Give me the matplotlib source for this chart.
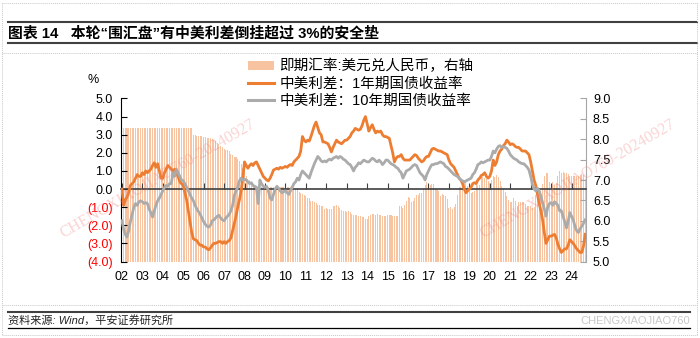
import numpy as np
import matplotlib
matplotlib.use("Agg")
import matplotlib.pyplot as plt
from matplotlib.patches import Patch
from matplotlib.lines import Line2D

plt.rcParams['font.family'] = ['Liberation Sans', 'Noto Sans CJK SC', 'DejaVu Sans']

# monthly data, 2002-01 .. 2024-09
start_year = 2002

# 即期汇率：美元兑人民币 (right axis)
usdcny = [
    8.277, 8.277, 8.277, 8.277, 8.277, 8.277, 8.277, 8.277, 8.277, 8.277, 8.277, 8.277,  # 2002
    8.277, 8.277, 8.277, 8.277, 8.277, 8.277, 8.277, 8.277, 8.277, 8.277, 8.277, 8.277,  # 2003
    8.276, 8.276, 8.276, 8.276, 8.276, 8.276, 8.276, 8.276, 8.276, 8.276, 8.276, 8.276,  # 2004
    8.276, 8.276, 8.276, 8.276, 8.276, 8.276, 8.11, 8.10, 8.09, 8.08, 8.08, 8.07,  # 2005
    8.06, 8.05, 8.02, 8.02, 8.02, 8.00, 7.97, 7.95, 7.91, 7.89, 7.84, 7.81,  # 2006
    7.77, 7.74, 7.73, 7.71, 7.65, 7.62, 7.57, 7.57, 7.51, 7.47, 7.40, 7.30,  # 2007
    7.19, 7.11, 7.02, 6.99, 6.95, 6.86, 6.84, 6.84, 6.81, 6.83, 6.83, 6.83,  # 2008
    6.84, 6.84, 6.83, 6.83, 6.83, 6.83, 6.83, 6.83, 6.83, 6.83, 6.83, 6.83,  # 2009
    6.83, 6.83, 6.83, 6.83, 6.83, 6.78, 6.78, 6.81, 6.70, 6.67, 6.65, 6.62,  # 2010
    6.60, 6.57, 6.55, 6.49, 6.48, 6.47, 6.44, 6.39, 6.38, 6.36, 6.36, 6.30,  # 2011
    6.31, 6.30, 6.30, 6.30, 6.36, 6.36, 6.38, 6.35, 6.31, 6.26, 6.23, 6.23,  # 2012
    6.22, 6.23, 6.21, 6.16, 6.13, 6.14, 6.14, 6.12, 6.12, 6.09, 6.09, 6.05,  # 2013
    6.05, 6.12, 6.15, 6.16, 6.17, 6.15, 6.17, 6.15, 6.14, 6.11, 6.12, 6.12,  # 2014
    6.13, 6.15, 6.14, 6.12, 6.12, 6.12, 6.12, 6.36, 6.36, 6.32, 6.39, 6.49,  # 2015
    6.58, 6.55, 6.45, 6.48, 6.56, 6.63, 6.64, 6.68, 6.67, 6.77, 6.88, 6.94,  # 2016
    6.87, 6.87, 6.89, 6.89, 6.81, 6.78, 6.73, 6.60, 6.65, 6.62, 6.61, 6.53,  # 2017
    6.32, 6.33, 6.28, 6.33, 6.40, 6.62, 6.83, 6.82, 6.87, 6.97, 6.94, 6.86,  # 2018
    6.74, 6.69, 6.71, 6.73, 6.90, 6.87, 6.88, 7.08, 7.08, 7.05, 7.03, 6.98,  # 2019
    6.93, 6.99, 7.09, 7.07, 7.13, 7.08, 6.98, 6.86, 6.81, 6.70, 6.60, 6.52,  # 2020
    6.47, 6.47, 6.57, 6.49, 6.37, 6.46, 6.47, 6.47, 6.46, 6.41, 6.37, 6.37,  # 2021
    6.37, 6.31, 6.34, 6.62, 6.67, 6.71, 6.74, 6.89, 7.10, 7.18, 7.16, 6.95,  # 2022
    6.75, 6.95, 6.87, 6.92, 7.09, 7.23, 7.18, 7.19, 7.18, 7.18, 7.14, 7.10,  # 2023
    7.10, 7.11, 7.10, 7.11, 7.11, 7.13, 7.14, 7.12, 7.02,  # 2024
]

# 中美利差：1年期国债收益率 (%)
spread_1y = [
    0.0, -0.9, -0.6, -0.45, -0.2, 0.2, 0.3, 0.4, 0.6, 0.8, 0.7, 0.7,  # 2002
    0.9, 0.8, 1.0, 0.9, 1.0, 1.1, 1.3, 1.45, 1.2, 1.4, 1.0, 0.6,  # 2003
    0.6, 0.9, 1.1, 1.3, 1.2, 1.1, 1.0, 1.1, 0.9, 0.7, 0.4, 0.3,  # 2004
    0.2, -0.2, -0.6, -1.2, -1.8, -2.4, -2.75, -2.8, -2.85, -3.0, -3.1, -3.1,  # 2005
    -3.2, -3.2, -3.3, -3.35, -3.25, -3.1, -3.0, -3.0, -2.95, -2.9, -2.9, -3.0,  # 2006
    -2.9, -3.0, -2.9, -2.85, -2.7, -2.3, -1.9, -1.5, -1.0, -0.6, -0.1, 0.6,  # 2007
    1.5, 1.3, 1.15, 1.3, 1.4, 1.3, 1.45, 1.5, 1.3, 1.1, 0.9, 0.7,  # 2008
    0.6, 0.5, 0.45, 0.6, 0.8, 1.05, 1.1, 1.15, 1.1, 1.2, 1.15, 1.2,  # 2009
    1.25, 1.2, 1.3, 1.35, 1.3, 1.5, 1.6, 1.7, 1.8, 2.1, 2.9, 2.7,  # 2010
    2.6, 2.7, 2.65, 2.9, 3.2, 3.5, 3.7, 3.4, 3.1, 3.0, 2.6, 2.6,  # 2011
    2.55, 2.5, 2.3, 2.05, 2.3, 2.5, 2.7, 2.6, 2.55, 2.5, 2.6, 2.7,  # 2012
    2.7, 2.8, 2.9, 3.1, 3.2, 3.35, 3.3, 3.25, 3.3, 3.5, 3.8, 4.0,  # 2013
    3.6, 3.2, 3.4, 3.55, 3.3, 3.1, 3.2, 3.15, 3.2, 3.0, 2.9, 2.9,  # 2014
    2.85, 2.8, 2.4, 2.0, 1.5, 1.7, 1.8, 1.8, 1.9, 1.7, 1.6, 1.6,  # 2015
    1.6, 1.6, 1.7, 1.8, 1.9, 1.85, 1.7, 1.6, 1.5, 1.55, 1.7, 1.8,  # 2016
    1.8, 2.0, 2.2, 2.25, 2.2, 2.15, 2.1, 2.1, 2.05, 2.0, 1.95, 1.9,  # 2017
    1.6, 1.4, 1.3, 1.2, 1.0, 0.8, 0.6, 0.5, 0.3, 0.0, -0.2, -0.1,  # 2018
    0.0, 0.1, 0.3, 0.35, 0.3, 0.5, 0.6, 0.75, 0.8, 0.9, 0.7, 0.6,  # 2019
    0.7, 1.0, 1.6, 1.3, 1.5, 1.9, 2.1, 2.2, 2.4, 2.5, 2.7, 2.6,  # 2020
    2.45, 2.5, 2.45, 2.35, 2.3, 2.3, 2.2, 2.1, 2.1, 2.1, 2.0, 1.9,  # 2021
    1.5, 1.0, 0.5, 0.2, -0.3, -0.8, -1.2, -1.7, -2.4, -3.0, -2.8, -2.6,  # 2022
    -2.6, -2.55, -2.5, -2.7, -3.05, -3.3, -3.5, -3.4, -3.3, -3.3, -3.1, -2.8,  # 2023
    -2.9, -3.0, -3.15, -3.3, -3.4, -3.5, -3.5, -3.15, -2.5,  # 2024
]

# 中美利差：10年期国债收益率 (%)
spread_10y = [
    -1.75, -2.2, -2.5, -2.65, -2.3, -1.8, -1.4, -1.0, -0.8, -0.9, -0.7, -0.65,  # 2002
    -0.7, -0.8, -0.75, -0.8, -1.1, -1.3, -1.55, -1.2, -0.9, -0.65, -0.5, -0.3,  # 2003
    -0.1, 0.1, 0.2, 0.15, 0.3, 0.3, 0.9, 0.7, 1.1, 0.9, 0.7, 0.5,  # 2004
    0.45, 0.3, 0.1, -0.1, -0.3, -0.5, -0.65, -0.9, -1.1, -1.25, -1.4, -1.6,  # 2005
    -1.8, -1.95, -2.05, -2.1, -2.0, -1.75, -1.7, -1.6, -1.5, -1.45, -1.6, -1.7,  # 2006
    -1.75, -1.6, -1.5, -1.4, -1.2, -0.9, -0.35, -0.1, 0.1, 0.45, 0.6, 0.5,  # 2007
    0.55, 0.5, 0.4, 0.3, 0.35, 0.2, 0.15, 0.1, -0.8, 0.5, 0.3, 0.15,  # 2008
    0.1, 0.15, -0.1, -0.5, -0.6, -0.3, 0.0, 0.15, 0.05, -0.1, -0.2, -0.15,  # 2009
    -0.1, -0.2, -0.3, -0.1, 0.1, 0.3, 0.4, 0.6, 0.5, 0.8, 1.0, 0.9,  # 2010
    0.8, 0.7, 0.6, 0.9, 1.15, 1.4, 1.6, 1.8, 1.7, 1.55, 1.5, 1.55,  # 2011
    1.5, 1.6, 1.65, 1.6, 1.7, 1.75, 1.8, 1.7, 1.8, 1.75, 1.65, 1.6,  # 2012
    1.5, 1.4, 1.35, 1.2, 1.0, 1.2, 1.3, 1.45, 1.4, 1.5, 1.6, 1.55,  # 2013
    1.5, 1.5, 1.6, 1.7, 1.65, 1.55, 1.5, 1.6, 1.5, 1.35, 1.45, 1.6,  # 2014
    1.6, 1.5, 1.4, 1.35, 1.3, 1.2, 1.15, 1.0, 0.9, 0.6, 0.8, 1.0,  # 2015
    1.05, 1.1, 1.2, 1.3, 1.35, 1.3, 1.1, 0.9, 0.8, 0.7, 0.5, 0.8,  # 2016
    1.0, 1.2, 1.35, 1.35, 1.4, 1.4, 1.45, 1.5, 1.45, 1.4, 1.25, 1.2,  # 2017
    1.1, 1.0, 0.9, 0.8, 0.75, 0.7, 0.6, 0.5, 0.45, 0.4, 0.45, 0.5,  # 2018
    0.55, 0.6, 0.8, 0.9, 1.1, 1.35, 1.4, 1.5, 1.45, 1.5, 1.55, 1.6,  # 2019
    1.6, 1.8, 2.1, 2.0, 2.2, 2.35, 2.4, 2.3, 2.35, 2.3, 2.25, 2.1,  # 2020
    1.9, 1.8, 1.7, 1.65, 1.6, 1.5, 1.45, 1.4, 1.4, 1.3, 1.2, 1.05,  # 2021
    0.7, 0.25, 0.0, -0.1, 0.05, -0.1, -0.4, -0.75, -1.1, -1.5, -1.0, -0.8,  # 2022
    -0.75, -0.9, -0.7, -0.8, -0.9, -1.2, -1.2, -1.5, -1.8, -2.15, -1.8, -1.3,  # 2023
    -1.5, -1.7, -2.05, -2.3, -2.4, -2.2, -2.05, -1.9, -1.7,  # 2024
]

year_ticks = list(range(2002, 2025))
year_labels = ['02', '03', '04', '05', '06', '07', '08', '09', '10', '11', '12', '13',
               '14', '15', '16', '17', '18', '19', '20', '21', '22', '23', '24']
left_ticks = [-4, -3, -2, -1, 0, 1, 2, 3, 4, 5]
left_labels = ['(4.0)', '(3.0)', '(2.0)', '(1.0)', '0.0', '1.0', '2.0', '3.0', '4.0', '5.0']
right_ticks = [5.0, 5.5, 6.0, 6.5, 7.0, 7.5, 8.0, 8.5, 9.0]

legend_labels = ['即期汇率:美元兑人民币，右轴', '中美利差：1年期国债收益率', '中美利差：10年期国债收益率']

c_bar = '#F8C3A0'
c_1y = '#ED7D31'
c_10y = '#ABABAB'

x = start_year + np.arange(len(usdcny)) / 12.0

fig = plt.figure(figsize=(7, 3.38), dpi=100)
ax = fig.add_axes([0.1729, 0.2263, 0.6643, 0.4823])
ax2 = ax.twinx()
ax.set_zorder(2)
ax2.set_zorder(1)
ax.patch.set_visible(False)

ax2.bar(x, usdcny, width=0.6 / 12, color=c_bar, linewidth=0)
ax2.set_ylim(5, 9)
ax2.set_yticks(right_ticks)
ax2.set_yticklabels([f'{v:.1f}' for v in right_ticks])

ax.plot(x, spread_1y, color=c_1y, lw=2.0, zorder=3, solid_joinstyle='round')
ax.plot(x, spread_10y, color=c_10y, lw=2.0, zorder=4, solid_joinstyle='round')
ax.set_ylim(-4, 5)
ax.set_xlim(x[0] - 0.5 / 12, x[-1] + 0.5 / 12)
ax.set_yticks(left_ticks)
ax.set_yticklabels(left_labels)
for t, v in zip(ax.get_yticklabels(), left_ticks):
    t.set_color('#FF0000' if v < 0 else 'black')

for s in ['top', 'right']:
    ax.spines[s].set_visible(False)
ax.spines['left'].set_color('black')
ax.spines['bottom'].set_position(('data', 0))
ax.spines['bottom'].set_color('#404040')
ax.spines['bottom'].set_linewidth(1.2)
ax.set_xticks(year_ticks)
ax.tick_params(axis='x', direction='in', length=4, color='#404040', labelbottom=False)
ax.tick_params(axis='y', direction='in', length=4, pad=6, labelsize=9)

for s in ['top', 'bottom', 'left']:
    ax2.spines[s].set_visible(False)
ax2.spines['right'].set_color('#A6A6A6')
ax2.tick_params(axis='y', direction='in', length=4, color='#A6A6A6', pad=5, labelsize=9)

sec = ax.secondary_xaxis('bottom')
sec.set_xticks(year_ticks)
sec.set_xticklabels(year_labels)
sec.tick_params(length=0, pad=7, labelsize=9)
sec.spines['bottom'].set_visible(False)

fig.text(93 / 700, 1 - 80 / 338, '%', fontsize=9, ha='center', va='center')

handles = [Patch(facecolor=c_bar, edgecolor='none'),
           Line2D([], [], color=c_1y, lw=2.2),
           Line2D([], [], color=c_10y, lw=2.2)]
fig.legend(handles, legend_labels, loc='upper left', bbox_to_anchor=(0.354, 0.825),
           frameon=False, fontsize=10.5, handlelength=1.8, handleheight=0.5,
           handletextpad=0.35, labelspacing=0.2, borderpad=0, borderaxespad=0)

# watermarks
for cx in [158 / 700, 578 / 700]:
    fig.text(cx, 0.47, 'CHENGXIAOJIAO760-20240927', fontsize=11.5, family='Liberation Serif',
             color='#F08080', alpha=0.35, rotation=30, ha='center', va='center',
             rotation_mode='anchor', zorder=10)

# title, footer and frame lines
fig.text(8 / 700, 1 - 33 / 338, '图表 14   本轮“围汇盘”有中美利差倒挂超过 3%的安全垫',
         fontsize=10.7, fontweight='bold', va='center')
fig.add_artist(Line2D([8 / 700, 697 / 700], [1 - 22 / 338] * 2, color='#404040', lw=1.5))
fig.add_artist(Line2D([8 / 700, 697 / 700], [1 - 43 / 338] * 2, color='#404040', lw=1.5))
fig.add_artist(Line2D([8 / 700, 690 / 700], [1 - 311.5 / 338] * 2, color='#404040', lw=1.5))
fig.add_artist(Line2D([8 / 700, 690 / 700], [1 - 328 / 338] * 2, color='black', lw=0.9))
for yy in [3, 53, 305, 335]:
    fig.add_artist(Line2D([2 / 700, 697 / 700], [1 - yy / 338] * 2, color='#C8C8C8',
                          lw=0.7, ls=(0, (1, 1))))
for xx in [2, 697]:
    fig.add_artist(Line2D([xx / 700] * 2, [1 - 3 / 338, 1 - 335 / 338], color='#C8C8C8',
                          lw=0.7, ls=(0, (1, 1))))

fig.text(8 / 700, 1 - 320 / 338, '资料来源: Wind，平安证券研究所', fontsize=8, style='italic',
         va='center', color='#222222')
fig.text(690 / 700, 1 - 321 / 338, 'CHENGXIAOJIAO760', fontsize=8, ha='right', va='center',
         color='#C8C8C8')

fig.savefig('out.png', dpi=100)
